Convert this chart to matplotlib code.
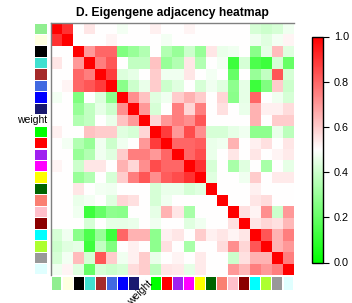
import numpy as np
import matplotlib
matplotlib.use("Agg")
import matplotlib.pyplot as plt
from matplotlib.colors import LinearSegmentedColormap

plt.rcParams['font.family'] = ['Liberation Sans', 'DejaVu Sans']

# module names (row/column order) and their colours
modules = ["lightgreen", "lightyellow", "black", "turquoise", "brown", "royalblue",
           "blue", "midnightblue", "weight", "green", "red", "purple", "magenta",
           "yellow", "darkgreen", "salmon", "pink", "darkred", "cyan",
           "greenyellow", "grey60", "lightcyan"]
mod_colors = ["#90EE90", "#FFFFE0", "#000000", "#40E0D0", "#A52A2A", "#4169E1",
              "#0000FF", "#191970", "#FFFFFF", "#00FF00", "#FF0000", "#A020F0",
              "#FF00FF", "#FFFF00", "#006400", "#FA8072", "#FFC0CB", "#8B0000",
              "#00FFFF", "#ADFF2F", "#999999", "#E0FFFF"]

# eigengene adjacency, upper triangle (row i holds columns i..21)
upper = [
    [1, 0.9, 0.5, 0.55, 0.5, 0.5, 0.48, 0.5, 0.5, 0.53, 0.5, 0.5, 0.52, 0.5, 0.5, 0.5, 0.5, 0.5, 0.42, 0.4, 0.42, 0.47],
    [1, 0.5, 0.5, 0.5, 0.52, 0.5, 0.5, 0.5, 0.5, 0.48, 0.5, 0.5, 0.5, 0.5, 0.5, 0.5, 0.5, 0.47, 0.44, 0.48, 0.52],
    [1, 0.7, 0.8, 0.8, 0.25, 0.3, 0.35, 0.5, 0.35, 0.3, 0.4, 0.3, 0.55, 0.46, 0.47, 0.5, 0.27, 0.45, 0.63, 0.44],
    [1, 0.75, 0.83, 0.5, 0.38, 0.38, 0.62, 0.3, 0.35, 0.55, 0.35, 0.5, 0.48, 0.12, 0.42, 0.15, 0.12, 0.42, 0.2],
    [1, 0.88, 0.43, 0.45, 0.5, 0.6, 0.47, 0.47, 0.55, 0.5, 0.48, 0.5, 0.2, 0.5, 0.3, 0.38, 0.83, 0.42],
    [1, 0.27, 0.4, 0.46, 0.6, 0.4, 0.44, 0.5, 0.42, 0.47, 0.44, 0.28, 0.45, 0.12, 0.25, 0.6, 0.4],
    [1, 0.72, 0.62, 0.44, 0.47, 0.6, 0.65, 0.6, 0.5, 0.58, 0.27, 0.45, 0.8, 0.5, 0.47, 0.42],
    [1, 0.7, 0.42, 0.5, 0.75, 0.58, 0.75, 0.5, 0.56, 0.5, 0.46, 0.65, 0.53, 0.53, 0.57],
    [1, 0.58, 0.7, 0.75, 0.72, 0.83, 0.5, 0.5, 0.5, 0.5, 0.65, 0.5, 0.6, 0.6],
    [1, 0.88, 0.7, 0.85, 0.72, 0.42, 0.42, 0.45, 0.47, 0.28, 0.28, 0.46, 0.37],
    [1, 0.8, 0.8, 0.82, 0.46, 0.47, 0.65, 0.5, 0.53, 0.56, 0.5, 0.55],
    [1, 0.8, 0.85, 0.46, 0.5, 0.55, 0.5, 0.55, 0.5, 0.52, 0.54],
    [1, 0.9, 0.42, 0.5, 0.33, 0.44, 0.5, 0.33, 0.5, 0.45],
    [1, 0.44, 0.5, 0.5, 0.47, 0.6, 0.5, 0.54, 0.54],
    [1, 0.5, 0.5, 0.5, 0.53, 0.5, 0.5, 0.5],
    [1, 0.5, 0.5, 0.55, 0.57, 0.5, 0.5],
    [1, 0.56, 0.52, 0.72, 0.4, 0.7],
    [1, 0.55, 0.58, 0.56, 0.64],
    [1, 0.83, 0.65, 0.75],
    [1, 0.65, 0.7],
    [1, 0.75],
    [1],
]
cbar_ticks = [0.0, 0.2, 0.4, 0.6, 0.8, 1.0]

n = len(modules)
adj = np.zeros((n, n))
for i, row in enumerate(upper):
    adj[i, i:] = row
    adj[i:, i] = row

cmap = LinearSegmentedColormap.from_list("gwr", ["#00FF00", "#FFFFFF", "#FF0000"])

W, H = 352, 303
fig = plt.figure(figsize=(W / 100, H / 100), dpi=100)

def box(x0, y0, x1, y1):
    # pixel box -> figure fraction rect
    return [x0 / W, 1 - y1 / H, (x1 - x0) / W, (y1 - y0) / H]

ax = fig.add_axes(box(51, 23, 294, 275))
im = ax.imshow(adj, cmap=cmap, vmin=0, vmax=1, aspect='auto', interpolation='nearest')
ax.set_xticks([])
ax.set_yticks([])
for s in ['bottom', 'right']:
    ax.spines[s].set_visible(False)
for s in ['left', 'top']:
    ax.spines[s].set_color('#808080')
    ax.spines[s].set_linewidth(1.0)
ax.set_title("D. Eigengene adjacency heatmap", fontsize=8.7, fontweight='bold', pad=5)

# module colour strips
axl = fig.add_axes(box(35, 23, 47, 275))
axl.barh(np.arange(n), 1, height=0.9, color=mod_colors)
axl.set_ylim(n - 0.5, -0.5)
axl.set_xlim(0, 1)
axl.axis('off')

axb = fig.add_axes(box(51, 277, 294, 290))
axb.bar(np.arange(n), 1, width=0.9, color=mod_colors, align='center')
axb.set_xlim(-0.5, n - 0.5)
axb.set_ylim(0, 1)
axb.axis('off')

wi = modules.index("weight")
axl.text(1.0, wi, "weight", ha='right', va='center', fontsize=7.5, clip_on=False)
axb.text(wi + 0.2, 0.85, "weight", ha='right', va='top', rotation=45,
         rotation_mode='anchor', fontsize=7.5, clip_on=False)

cax = fig.add_axes(box(311.5, 36.5, 322.5, 262.5))
cb = fig.colorbar(im, cax=cax, ticks=cbar_ticks)
cb.ax.set_yticklabels(["%.1f" % t for t in cbar_ticks])
cb.ax.tick_params(labelsize=7.8, length=4.3, width=0.8, pad=4)
cb.outline.set_linewidth(1.0)
cb.outline.set_edgecolor('black')

fig.savefig("out.png", dpi=100)
